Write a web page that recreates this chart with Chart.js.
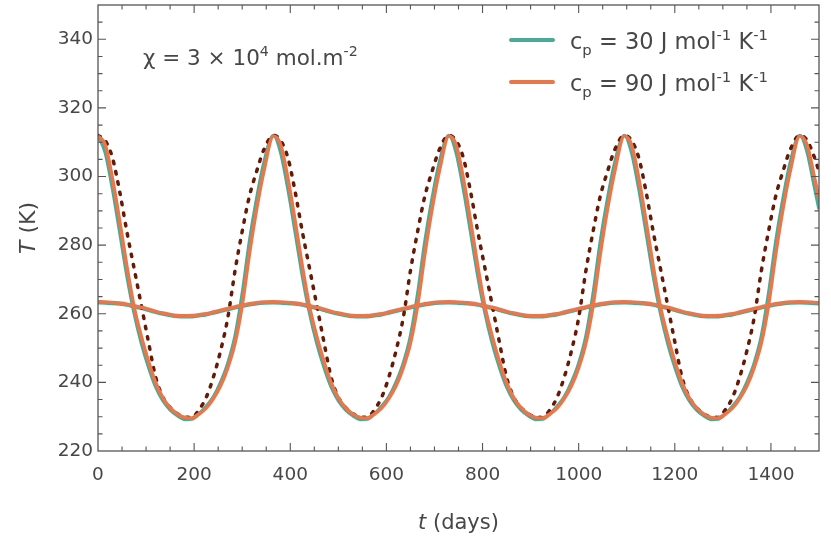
<!DOCTYPE html>
<html lang="en">
<head>
    <meta charset="UTF-8">
    <title>Temperature vs time</title>
    <script src="https://cdn.jsdelivr.net/npm/chart.js"></script>
    <style>
        html, body { margin: 0; padding: 0; background: #fff; }
        #wrap { width: 831px; height: 541px; }
    </style>
</head>
<body>
    <div id="wrap"><canvas id="tempChart" width="831" height="541"></canvas></div>

    <script>
        // time samples (days)
        const days = [
            0, 15, 30, 45, 60, 75, 90, 105, 120, 135, 150, 165, 180, 195, 210, 225, 240, 255, 270, 285, 300, 315, 330, 345,
            365, 380, 395, 410, 425, 440, 455, 470, 485, 500, 515, 530, 545, 560, 575, 590, 605, 620, 635, 650, 665, 680, 695, 710,
            730, 745, 760, 775, 790, 805, 820, 835, 850, 865, 880, 895, 910, 925, 940, 955, 970, 985, 1000, 1015, 1030, 1045, 1060, 1075,
            1095, 1110, 1125, 1140, 1155, 1170, 1185, 1200, 1215, 1230, 1245, 1260, 1275, 1290, 1305, 1320, 1335, 1350, 1365, 1380, 1395, 1410, 1425, 1440,
            1460, 1475, 1490, 1500
        ];

        // c_p = 30, large swing
        const tealBig = [
            312.0, 307.0, 296.5, 284.0, 271.2, 260.3, 251.5, 244.5, 238.7, 234.7, 232.0, 230.3, 229.2, 229.3, 230.8, 233.0, 235.8, 240.0, 245.5, 253.4, 265.8, 281.0, 293.5, 304.0,
            312.0, 307.0, 296.5, 284.0, 271.2, 260.3, 251.5, 244.5, 238.7, 234.7, 232.0, 230.3, 229.2, 229.3, 230.8, 233.0, 235.8, 240.0, 245.5, 253.4, 265.8, 281.0, 293.5, 304.0,
            312.0, 307.0, 296.5, 284.0, 271.2, 260.3, 251.5, 244.5, 238.7, 234.7, 232.0, 230.3, 229.2, 229.3, 230.8, 233.0, 235.8, 240.0, 245.5, 253.4, 265.8, 281.0, 293.5, 304.0,
            312.0, 307.0, 296.5, 284.0, 271.2, 260.3, 251.5, 244.5, 238.7, 234.7, 232.0, 230.3, 229.2, 229.3, 230.8, 233.0, 235.8, 240.0, 245.5, 253.4, 265.8, 281.0, 293.5, 304.0,
            312.0, 307.3, 297.3, 290.5
        ];

        // c_p = 90, large swing
        const orangeBig = [
            311.8, 309.2, 299.4, 287.0, 273.8, 262.0, 253.4, 246.1, 239.9, 235.5, 232.6, 230.8, 229.8, 229.6, 230.8, 232.5, 235.3, 239.0, 244.3, 251.5, 262.6, 277.5, 290.6, 301.6,
            311.8, 309.2, 299.4, 287.0, 273.8, 262.0, 253.4, 246.1, 239.9, 235.5, 232.6, 230.8, 229.8, 229.6, 230.8, 232.5, 235.3, 239.0, 244.3, 251.5, 262.6, 277.5, 290.6, 301.6,
            311.8, 309.2, 299.4, 287.0, 273.8, 262.0, 253.4, 246.1, 239.9, 235.5, 232.6, 230.8, 229.8, 229.6, 230.8, 232.5, 235.3, 239.0, 244.3, 251.5, 262.6, 277.5, 290.6, 301.6,
            311.8, 309.2, 299.4, 287.0, 273.8, 262.0, 253.4, 246.1, 239.9, 235.5, 232.6, 230.8, 229.8, 229.6, 230.8, 232.5, 235.3, 239.0, 244.3, 251.5, 262.6, 277.5, 290.6, 301.6,
            311.8, 309.2, 300.0, 293.5
        ];

        // reference curve (dotted)
        const dottedRef = [
            312.0, 310.5, 305.5, 295.7, 284.0, 273.3, 262.6, 251.8, 241.5, 235.7, 232.7, 230.9, 229.9, 229.8, 232.0, 235.6, 241.5, 249.2, 258.8, 272.5, 284.0, 294.3, 301.5, 307.8,
            312.0, 310.5, 305.5, 295.7, 284.0, 273.3, 262.6, 251.8, 241.5, 235.7, 232.7, 230.9, 229.9, 229.8, 232.0, 235.6, 241.5, 249.2, 258.8, 272.5, 284.0, 294.3, 301.5, 307.8,
            312.0, 310.5, 305.5, 295.7, 284.0, 273.3, 262.6, 251.8, 241.5, 235.7, 232.7, 230.9, 229.9, 229.8, 232.0, 235.6, 241.5, 249.2, 258.8, 272.5, 284.0, 294.3, 301.5, 307.8,
            312.0, 310.5, 305.5, 295.7, 284.0, 273.3, 262.6, 251.8, 241.5, 235.7, 232.7, 230.9, 229.9, 229.8, 232.0, 235.6, 241.5, 249.2, 258.8, 272.5, 284.0, 294.3, 301.5, 307.8,
            312.0, 310.6, 305.8, 301.5
        ];

        // small swing curves
        const tealSmall = [
            263.2, 263.15, 263.0, 262.8, 262.5, 262.0, 261.6, 261.0, 260.4, 259.9, 259.5, 259.2, 259.1, 259.15, 259.4, 259.7, 260.2, 260.7, 261.2, 261.7, 262.2, 262.6, 262.9, 263.1,
            263.2, 263.15, 263.0, 262.8, 262.5, 262.0, 261.6, 261.0, 260.4, 259.9, 259.5, 259.2, 259.1, 259.15, 259.4, 259.7, 260.2, 260.7, 261.2, 261.7, 262.2, 262.6, 262.9, 263.1,
            263.2, 263.15, 263.0, 262.8, 262.5, 262.0, 261.6, 261.0, 260.4, 259.9, 259.5, 259.2, 259.1, 259.15, 259.4, 259.7, 260.2, 260.7, 261.2, 261.7, 262.2, 262.6, 262.9, 263.1,
            263.2, 263.15, 263.0, 262.8, 262.5, 262.0, 261.6, 261.0, 260.4, 259.9, 259.5, 259.2, 259.1, 259.15, 259.4, 259.7, 260.2, 260.7, 261.2, 261.7, 262.2, 262.6, 262.9, 263.1,
            263.2, 263.15, 263.0, 262.9
        ];
        const orangeSmall = [
            263.5, 263.45, 263.3, 263.1, 262.8, 262.3, 261.9, 261.3, 260.7, 260.2, 259.8, 259.5, 259.4, 259.45, 259.7, 260.0, 260.5, 261.0, 261.5, 262.0, 262.5, 262.9, 263.2, 263.4,
            263.5, 263.45, 263.3, 263.1, 262.8, 262.3, 261.9, 261.3, 260.7, 260.2, 259.8, 259.5, 259.4, 259.45, 259.7, 260.0, 260.5, 261.0, 261.5, 262.0, 262.5, 262.9, 263.2, 263.4,
            263.5, 263.45, 263.3, 263.1, 262.8, 262.3, 261.9, 261.3, 260.7, 260.2, 259.8, 259.5, 259.4, 259.45, 259.7, 260.0, 260.5, 261.0, 261.5, 262.0, 262.5, 262.9, 263.2, 263.4,
            263.5, 263.45, 263.3, 263.1, 262.8, 262.3, 261.9, 261.3, 260.7, 260.2, 259.8, 259.5, 259.4, 259.45, 259.7, 260.0, 260.5, 261.0, 261.5, 262.0, 262.5, 262.9, 263.2, 263.4,
            263.5, 263.45, 263.3, 263.2
        ];

        const xTicks = [0, 200, 400, 600, 800, 1000, 1200, 1400];
        const yTicks = [220, 240, 260, 280, 300, 320, 340];

        // legend labels: [text, mode]
        const legendTeal = [['c', ''], ['p', 'sub'], [' = 30 J mol', ''], ['-1', 'sup'], [' K', ''], ['-1', 'sup']];
        const legendOrange = [['c', ''], ['p', 'sub'], [' = 90 J mol', ''], ['-1', 'sup'], [' K', ''], ['-1', 'sup']];
        const noteText = [['χ = 3 × 10', ''], ['4', 'sup'], [' mol.m', ''], ['-2', 'sup']];
        const xTitle = [['t', 'i'], [' (days)', '']];
        const yTitle = [['T', 'i'], [' (K)', '']];

        const TEAL = '#48aa97';
        const ORANGE = '#e8784b';
        const BROWN = '#661a06';
        const INK = '#474747';
        const FONT = '"DejaVu Sans", sans-serif';

        const pts = vals => days.map((d, i) => ({ x: d, y: vals[i] }));

        function richWidth(ctx, parts, size) {
            let w = 0;
            for (const [t, mode] of parts) {
                const s = (mode === 'sub' || mode === 'sup') ? size * 0.66 : size;
                ctx.font = (mode === 'i' ? 'italic ' : '') + s + 'px ' + FONT;
                w += ctx.measureText(t).width;
            }
            return w;
        }

        function richText(ctx, x, y, parts, size) {
            let cx = x;
            for (const [t, mode] of parts) {
                const s = (mode === 'sub' || mode === 'sup') ? size * 0.66 : size;
                ctx.font = (mode === 'i' ? 'italic ' : '') + s + 'px ' + FONT;
                const dy = mode === 'sub' ? size * 0.25 : mode === 'sup' ? -size * 0.4 : 0;
                ctx.fillText(t, cx, y + dy);
                cx += ctx.measureText(t).width;
            }
        }

        // frame, inside ticks, titles, note and legend
        const decor = {
            id: 'decor',
            afterDraw(chart) {
                const { ctx, chartArea: a, scales: { x, y } } = chart;
                ctx.save();
                ctx.strokeStyle = '#555';
                ctx.lineWidth = 1.3;
                ctx.strokeRect(a.left, a.top, a.right - a.left, a.bottom - a.top);

                ctx.lineWidth = 1.1;
                ctx.beginPath();
                for (let v = 50; v < 1500; v += 50) {
                    const px = x.getPixelForValue(v);
                    const len = v % 200 === 0 ? 8 : 4.5;
                    ctx.moveTo(px, a.bottom); ctx.lineTo(px, a.bottom - len);
                    ctx.moveTo(px, a.top); ctx.lineTo(px, a.top + len);
                }
                for (let v = 225; v < 350; v += 5) {
                    const py = y.getPixelForValue(v);
                    const len = v % 20 === 0 ? 8 : 4.5;
                    ctx.moveTo(a.left, py); ctx.lineTo(a.left + len, py);
                    ctx.moveTo(a.right, py); ctx.lineTo(a.right - len, py);
                }
                ctx.stroke();

                ctx.fillStyle = INK;
                ctx.textBaseline = 'alphabetic';
                ctx.textAlign = 'left';

                // x title
                const xs = 21;
                const xw = richWidth(ctx, xTitle, xs);
                richText(ctx, (a.left + a.right) / 2 - xw / 2, 529, xTitle, xs);

                // y title
                ctx.save();
                ctx.translate(35, (a.top + a.bottom) / 2);
                ctx.rotate(-Math.PI / 2);
                const yw = richWidth(ctx, yTitle, 22);
                richText(ctx, -yw / 2, 0, yTitle, 22);
                ctx.restore();

                // note
                richText(ctx, 143, 65, noteText, 21.5);

                // legend
                ctx.lineCap = 'round';
                ctx.lineWidth = 4;
                ctx.strokeStyle = TEAL;
                ctx.beginPath(); ctx.moveTo(511, 40); ctx.lineTo(553, 40); ctx.stroke();
                ctx.strokeStyle = ORANGE;
                ctx.beginPath(); ctx.moveTo(511, 82); ctx.lineTo(553, 82); ctx.stroke();
                ctx.fillStyle = INK;
                richText(ctx, 570, 49, legendTeal, 22.5);
                richText(ctx, 570, 91, legendOrange, 22.5);
                ctx.restore();
            }
        };

        const line = (vals, color, width) => ({
            data: pts(vals),
            borderColor: color,
            borderWidth: width,
            pointRadius: 0,
            fill: false,
            cubicInterpolationMode: 'monotone'
        });

        const dotted = Object.assign(line(dottedRef, BROWN, 3.5), {
            borderDash: [2.5, 8],
            borderCapStyle: 'round'
        });

        new Chart(document.getElementById('tempChart'), {
            type: 'line',
            data: {
                datasets: [
                    line(orangeBig, ORANGE, 3.6),
                    line(orangeSmall, ORANGE, 3.6),
                    dotted,
                    line(tealBig, TEAL, 3.4),
                    line(tealSmall, TEAL, 3.4)
                ]
            },
            options: {
                responsive: false,
                animation: false,
                layout: { padding: { left: 0, right: 12, top: 5, bottom: 0 } },
                plugins: {
                    legend: { display: false },
                    tooltip: { enabled: false }
                },
                scales: {
                    x: {
                        type: 'linear',
                        min: 0,
                        max: 1500,
                        afterBuildTicks: s => { s.ticks = xTicks.map(v => ({ value: v })); },
                        afterFit: s => {
                            s.height = 90;
                            s.paddingLeft = 0; s.paddingRight = 0;
                        },
                        grid: { display: false, drawTicks: false },
                        border: { display: false },
                        ticks: {
                            color: INK,
                            padding: 13,
                            maxRotation: 0,
                            callback: v => String(v),
                            font: { family: FONT, size: 18.5 }
                        }
                    },
                    y: {
                        min: 220,
                        max: 350,
                        afterBuildTicks: s => { s.ticks = yTicks.map(v => ({ value: v })); },
                        afterFit: s => {
                            s.width = 98;
                            s.paddingTop = 0; s.paddingBottom = 0;
                        },
                        grid: { display: false, drawTicks: false },
                        border: { display: false },
                        ticks: {
                            color: INK,
                            padding: 5,
                            callback: v => String(v),
                            font: { family: FONT, size: 18.5 }
                        }
                    }
                }
            },
            plugins: [decor]
        });
    </script>
</body>
</html>
